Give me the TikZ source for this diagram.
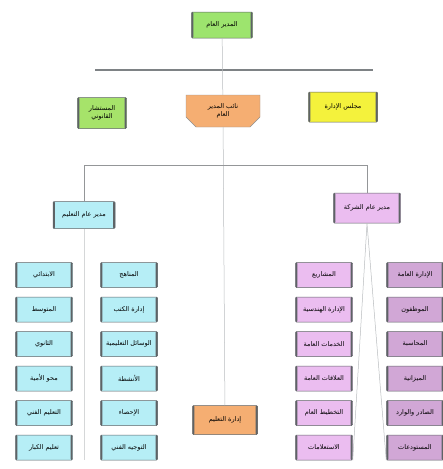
\documentclass[tikz,border=0pt]{standalone}
\usepackage{fontspec}
\usetikzlibrary{shapes.misc}
\newfontfamily\arabicfont[Script=Arabic]{DejaVu Sans}
\TeXXeTstate=1
\newcommand{\artxt}[1]{{\arabicfont\beginR #1\endR}}
\definecolor{gmgreen}{HTML}{9DE46E}
\definecolor{advgreen}{HTML}{A6E36A}
\definecolor{boardyellow}{HTML}{F4F23C}
\definecolor{deporange}{HTML}{F5AE72}
\definecolor{edublue}{HTML}{B6EEF6}
\definecolor{coPink}{HTML}{EBBDF0}
\definecolor{coPurple}{HTML}{D1A7D6}
\definecolor{boxgray}{HTML}{5E6366}
\definecolor{linegray}{HTML}{B9BCBE}

\begin{document}
\begin{tikzpicture}[x=1pt,y=-1pt,font=\fontsize{6.5}{7.5}\selectfont,
  box/.style={draw=boxgray,line width=0.5pt,rounded corners=1pt,align=center,inner sep=1pt,
    path picture={\fill[boxgray] (path picture bounding box.south west) rectangle ([xshift=1.8pt]path picture bounding box.north west);
      \fill[boxgray] ([xshift=-1.8pt]path picture bounding box.south east) rectangle (path picture bounding box.north east);}},
  kid/.style={box,minimum width=57,minimum height=25},
  spine/.style={draw=linegray,line width=0.5pt}]
\useasboundingbox (0,0) rectangle (443,469);
\node[box,fill=gmgreen,minimum width=61,minimum height=26] (gm) at (222,25) {\artxt{المدير العام}};
\node[box,fill=advgreen,minimum width=49,minimum height=31] (adv) at (102,113) {\artxt{المستشار}\\\artxt{القانوني}};
\node[draw=boxgray!70,fill=deporange,chamfered rectangle,chamfered rectangle corners={south west,south east},chamfered rectangle xsep=5pt,chamfered rectangle ysep=5pt,minimum width=74,minimum height=32,align=center,inner sep=1pt] (dgm) at (223,111) {\artxt{نائب المدير}\\\artxt{العام}};
\node[box,fill=boardyellow,minimum width=69,minimum height=30] (board) at (343,107) {\artxt{مجلس الإدارة}};
\node[box,fill=edublue,minimum width=62,minimum height=27] (edgm) at (84,215) {\artxt{مدير عام التعليم}};
\node[box,fill=coPink,minimum width=67,minimum height=30] (cogm) at (367,208) {\artxt{مدير عام الشركة}};
\node[box,fill=deporange,minimum width=65,minimum height=29] (edu) at (225,420) {\artxt{إدارة التعليم}};
\coordinate (barL) at (95,70);
\coordinate (barR) at (373,70);
\coordinate (splitL) at (85,165);
\coordinate (splitR) at (368,165);
\foreach \i/\yy/\ea/\eb/\ca/\cb in {
  1/275/الابتدائي/المناهج/المشاريع/الإدارة العامة,
  2/309.5/المتوسط/إدارة الكتب/الإدارة الهندسية/الموظفون,
  3/344/الثانوي/الوسائل التعليمية/الخدمات العامة/المحاسبة,
  4/378.5/محو الأمية/الأنشطة/العلاقات العامة/الميزانية,
  5/413/التعليم الفني/الإحصاء/التخطيط العام/الصادر والوارد,
  6/447.5/تعليم الكبار/التوجيه الفني/الاستعلامات/المستودعات}{
  \node[kid,fill=edublue] (el\i) at (44,\yy) {\artxt{\ea}};
  \node[kid,fill=edublue] (er\i) at (129,\yy) {\artxt{\eb}};
  \node[kid,fill=coPink] (cl\i) at (324,\yy) {\artxt{\ca}};
  \node[kid,fill=coPurple] (cr\i) at (415,\yy) {\artxt{\cb}};
}
\draw[draw=boxgray!80,line width=1.1pt] (barL) -- (barR);
\draw[spine] (gm) -- (dgm);
\draw[spine] (dgm) -- (edu);
\draw[draw=linegray!80!black,line width=0.6pt] (edgm.north) -- (edgm.north |- splitL) -- (splitR -| cogm.north) -- (cogm.north);
\draw[spine,draw=linegray!60] (edgm.south) -- (edgm.south |- el6.south);
\draw[spine] (cl6.south east) -- (cogm.south) -- (cr6.south west);
\end{tikzpicture}
\end{document}
